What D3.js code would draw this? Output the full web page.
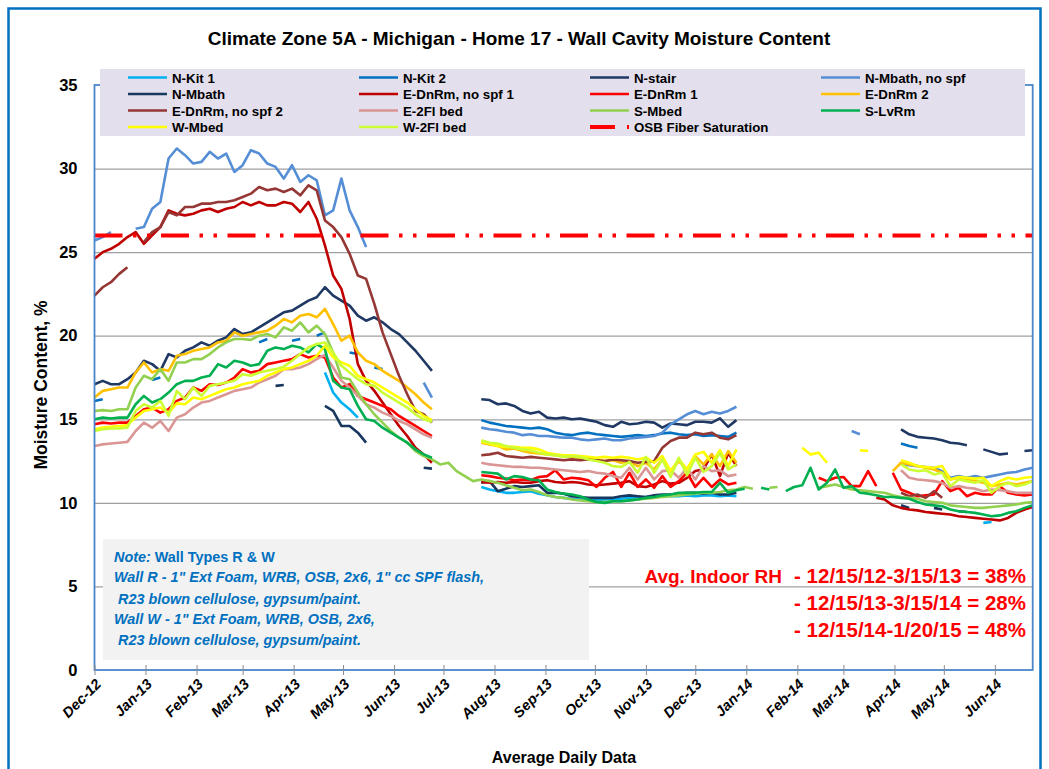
<!DOCTYPE html>
<html>
<head>
<meta charset="utf-8">
<script src="https://cdn.jsdelivr.net/npm/d3@7"></script>
<style>
  body { margin: 0; background: #fff; }
  text { font-family: 'Liberation Sans', Arial, sans-serif; }
</style>
</head>
<body>
<svg id="chart" width="1049" height="769"></svg>
<script>
const _ = null;

// daily data, read every 5th day from Dec 1 2012
const startDate = new Date(2012, 11, 1);
const endDate = new Date(2014, 5, 24);
const dates = d3.timeDay.range(startDate, d3.timeDay.offset(endDate, 1), 5);
const monthTicks = d3.timeMonth.range(startDate, endDate);
const yTicks = [0, 5, 10, 15, 20, 25, 30, 35];

const nKit1 = [
  _, _, _, _, _, _, _, _, _, _,
  _, _, _, _, _, _, _, _, _, _,
  _, _, _, _, _, _, _, _, 17.8, 16.6,
  16.0, 15.6, 15.1, _, _, _, _, _, _, _,
  _, _, _, _, _, _, _, 10.95, 10.8, 10.7,
  10.6, 10.6, 10.65, 10.7, 10.55, 10.45, 10.35, 10.3, 10.25, 10.2,
  10.2, 10.15, 10.2, 10.2, 10.25, 10.3, 10.3, 10.35, 10.4, 10.4,
  10.4, 10.4, 10.45, 10.4, 10.45, 10.45, 10.4, 10.45, 10.4, _,
  _, _, _, _, _, _, _, _, _, _,
  _, _, _, _, _, _, _, _, _, _,
  _, _, _, _, _, _, _, _, 8.8, 8.85,
  _, _, _, _, _
];
const nKit2 = [
  16.1, 16.2, _, _, _, _, _, 17.35, 17.5, _,
  _, _, _, _, _, _, _, _, _, _,
  19.6, 19.8, _, _, 19.7, 19.8, _, 20.0, 20.2, _,
  _, 19.0, 18.9, _, 18.1, 18.0, _, _, _, _,
  _, _, _, _, _, _, _, 14.95, 14.8, 14.7,
  14.6, 14.55, 14.5, 14.45, 14.5, 14.4, 14.2, 14.1, 14.05, 14.15,
  14.2, 14.1, 14.05, 14.0, 13.95, 14.0, 14.05, 14.0, 14.05, 14.15,
  14.2, 14.1, 14.05, 14.1, 14.0, 14.05, 14.0, 13.95, 14.2, _,
  _, _, _, _, _, _, _, _, _, _,
  _, _, _, _, _, _, _, _, 13.55, 13.4,
  13.3, _, _, _, _, _, _, _, _, _,
  _, _, _, _, _
];
const nStair = [
  17.1, 17.3, 17.1, 17.1, 17.4, 17.8, 18.5, 18.3, 17.9, 18.9,
  18.7, 19.1, 19.3, 19.6, 19.4, 19.7, 19.9, 20.4, 20.1, 20.2,
  20.5, 20.8, 21.1, 21.4, 21.5, 21.8, 22.1, 22.3, 22.9, 22.4,
  22.1, 21.8, 21.2, 20.9, 21.1, 20.8, 20.4, 20.1, 19.6, 19.1,
  18.5, 17.9, _, _, _, _, _, 16.2, 16.15, 15.9,
  15.95, 15.8, 15.5, 15.35, 15.45, 15.1, 15.05, 15.1, 15.0, 15.05,
  14.95, 14.85, 14.65, 14.55, 14.85, 14.7, 14.75, 14.85, 14.8, 14.5,
  14.75, 14.7, 14.65, 14.85, 14.85, 14.8, 15.05, 14.55, 14.95, _,
  _, _, _, _, _, _, _, _, _, _,
  _, _, _, _, _, _, _, _, 14.4, 14.1,
  13.95, 13.9, 13.85, 13.75, 13.6, 13.55, 13.45, _, 13.2, 13.05,
  12.9, 12.95, _, 13.1, 13.15
];
const nMbathNoSpf = [
  25.7, 25.9, 26.2, _, _, 26.4, 26.5, 27.6, 28.0, 30.6,
  31.2, 30.8, 30.3, 30.4, 31.0, 30.6, 30.9, 29.8, 30.2, 31.1,
  30.9, 30.3, 30.1, 29.4, 30.2, 29.2, 29.6, 29.3, 27.2, 27.5,
  29.4, 27.5, 26.5, 25.3, _, _, _, _, _, _,
  17.2, 16.3, _, _, _, _, _, 14.5, 14.4, 14.35,
  14.25, 14.2, 14.05, 14.1, 14.0, 14.0, 13.95, 13.9, 13.9, 13.8,
  13.75, 13.8, 13.85, 13.75, 13.75, 13.85, 13.9, 13.95, 14.0, 14.2,
  14.7, 15.0, 15.3, 15.5, 15.3, 15.45, 15.35, 15.5, 15.75, _,
  _, _, _, _, _, _, _, _, _, _,
  _, _, 14.3, 14.1, _, _, _, _, 12.3, 12.25,
  12.2, 12.15, 12.1, 11.9, 11.5, 11.6, 11.5, 11.6, 11.5, 11.6,
  11.7, 11.8, 11.85, 12.0, 12.1
];
const nMbath = [
  _, _, _, _, _, _, _, _, _, _,
  _, _, _, _, _, _, _, _, _, _,
  _, _, 17.0, 17.05, _, _, _, _, 15.8, 15.5,
  14.6, 14.6, 14.2, 13.6, _, _, _, _, _, _,
  12.1, 12.05, _, _, _, _, _, 11.2, 11.3, 10.7,
  10.85, 11.0, 10.95, 11.0, 11.05, 10.6, 10.6, 10.55, 10.4, 10.35,
  10.3, 10.3, 10.3, 10.3, 10.4, 10.45, 10.4, 10.35, 10.45, 10.5,
  10.5, 10.55, 10.6, 10.6, 10.55, 10.6, 10.5, 10.5, 10.6, _,
  _, _, _, _, _, _, _, _, _, _,
  _, _, _, _, _, _, _, _, 9.85, 9.7,
  _, _, 9.7, 9.6, _, 9.5, 9.45, _, _, _,
  _, _, _, _, _
];
const eDnRmNoSpf1 = [
  24.6, 25.0, 25.2, 25.5, 25.9, 26.2, 25.5, 26.0, 26.5, 27.5,
  27.3, 27.2, 27.3, 27.5, 27.6, 27.4, 27.6, 27.7, 28.0, 27.8,
  28.0, 27.8, 27.8, 28.0, 27.9, 27.4, 28.0, 27.0, 25.4, 23.6,
  22.8, 21.0, 18.3, 17.3, 16.7, 16.0, 15.3, 14.6, 14.0, 13.3,
  12.9, 12.4, _, _, _, _, _, 11.25, 11.2, 11.25,
  11.2, 11.25, 11.2, 11.2, 11.3, 11.35, 11.25, 11.2, 11.25, 11.2,
  11.1, 11.05, 11.1, 11.15, 11.2, 11.3, 11.0, 10.95, 11.1, 11.3,
  11.15, 11.2, 11.5, 11.9, 12.0, 12.9, 11.6, 13.0, 12.2, _,
  _, _, _, _, _, _, _, _, _, _,
  _, _, _, _, _, 10.3, 10.2, 9.85, 9.7, 9.6,
  9.55, 9.45, 9.4, 9.35, 9.3, 9.2, 9.15, 9.1, 9.05, 9.0,
  8.95, 9.1, 9.4, 9.6, 9.75
];
const eDnRm1 = [
  14.7, 14.8, 14.75, 14.8, 14.8, 15.2, 15.6, 15.7, 15.4, 15.6,
  16.1, 16.3, 16.9, 16.7, 17.1, 17.05, 17.2, 17.5, 18.0, 17.8,
  17.9, 18.3, 18.4, 18.5, 18.6, 18.9, 18.7, 18.8, 18.7, 17.5,
  16.9, 17.1, 16.4, 16.2, 16.0, 15.8, 15.6, 15.2, 14.9, 14.6,
  14.3, 14.0, _, _, _, _, _, 11.65, 11.6, 11.5,
  11.45, 11.35, 11.4, 11.35, 11.55, 11.6, 11.95, 11.4, 11.5, 11.45,
  11.35, 10.95, 11.5, 11.85, 10.95, 11.8, 10.95, 11.4, 10.9, 11.6,
  10.95, 11.3, 11.8, 10.95, 11.5, 10.95, 11.4, 11.1, 11.2, _,
  _, _, _, _, _, _, _, _, 11.5, 11.3,
  11.5, 11.55, 11.0, 11.0, 11.9, 11.0, _, 11.8, 10.8, 10.6,
  10.4, 10.45, 10.5, 11.3, 10.7, 10.9, 10.4, 10.6, 10.5, 10.5,
  11.0, 10.6, 10.5, 10.45, 10.5
];
const eDnRm2 = [
  16.3, 16.7, 16.8, 16.9, 16.9, 17.8, 18.4, 17.8, 18.0, 17.9,
  18.8, 18.9, 19.1, 19.2, 19.3, 19.6, 19.7, 20.2, 20.0, 20.1,
  20.2, 20.3, 20.6, 21.0, 20.8, 21.2, 21.3, 21.1, 21.6, 20.7,
  19.7, 20.0, 19.0, 18.5, 18.3, 17.9, 17.6, 17.3, 16.9, 16.5,
  16.0, 15.6, _, _, _, _, _, 13.6, 13.5, 13.4,
  13.2, 13.25, 13.1, 13.0, 12.95, 12.9, 12.85, 12.8, 12.75, 12.7,
  12.7, 12.6, 12.5, 12.55, 12.4, 12.5, 12.2, 12.4, 12.0, 12.6,
  11.9, 12.5, 12.0, 12.8, 12.3, 12.9, 12.2, 13.1, 12.4, _,
  _, _, _, _, _, _, _, _, _, _,
  _, _, _, _, _, _, _, 11.9, 12.4, 12.3,
  12.2, 12.1, 12.0, 11.8, 11.4, 11.5, 11.4, 11.3, 11.2, 11.0,
  11.1, 11.2, 11.1, 11.2, 11.3
];
const eDnRmNoSpf2 = [
  22.4, 22.9, 23.2, 23.7, 24.1, _, 25.6, 26.2, 26.5, 27.4,
  27.2, 27.7, 27.7, 27.9, 27.9, 28.0, 28.0, 28.1, 28.3, 28.5,
  28.9, 28.7, 28.8, 28.6, 28.8, 28.4, 29.0, 28.7, 26.9, 26.5,
  25.9, 24.9, 23.6, 23.4, 21.9, 20.2, 18.9, 17.6, 16.5, 15.5,
  15.3, 14.8, _, _, _, _, _, 12.85, 12.9, 13.0,
  12.8, 12.75, 12.7, 12.75, 12.7, 12.65, 12.6, 12.55, 12.6, 12.55,
  12.6, 12.55, 12.5, 12.6, 12.55, 12.5, 12.4, 12.45, 12.5, 13.3,
  13.7, 13.9, 13.9, 14.2, 14.1, 14.2, 13.9, 13.8, 14.05, _,
  _, _, _, _, _, _, _, _, _, _,
  _, _, _, _, _, _, _, _, 10.6, 10.4,
  10.5, 10.3, 10.7, 10.3, _, _, _, _, _, _,
  _, _, _, _, _
];
const e2FlBed = [
  13.4, 13.5, 13.55, 13.6, 13.65, 14.3, 14.8, 14.5, 14.9, 14.3,
  15.1, 15.3, 15.7, 16.0, 16.1, 16.3, 16.5, 16.7, 16.8, 16.9,
  17.2, 17.4, 17.6, 18.0, 18.0, 18.1, 18.3, 18.6, 18.85, 18.1,
  17.3, 16.9, 16.4, 15.9, 15.7, 15.4, 15.2, 14.9, 14.7, 14.4,
  14.1, 13.9, _, _, _, _, _, 12.4, 12.3, 12.25,
  12.2, 12.15, 12.15, 12.1, 12.1, 12.05, 12.0, 11.95, 11.9, 11.85,
  11.9, 11.8, 11.75, 11.6, 11.5, 12.1, 11.4, 12.1, 11.4, 11.9,
  11.95, 11.5, 12.1, 11.4, 12.2, 11.9, 11.95, 11.6, 11.7, _,
  _, _, _, _, _, _, _, _, _, _,
  _, _, _, _, _, _, _, _, 11.95, 11.5,
  11.4, 11.35, 11.3, 11.2, 10.9, 11.0, 10.9, 10.85, 10.7, 10.8,
  10.75, 10.7, 10.6, 10.6, 10.6
];
const sMbed = [
  15.5, 15.55, 15.5, 15.6, 15.6, 16.9, 17.6, 17.4, 18.0, 17.3,
  18.4, 18.4, 18.6, 18.6, 18.9, 19.3, 19.6, 19.8, 19.8, 19.75,
  20.0, 20.1, 19.9, 20.5, 20.3, 20.8, 20.2, 20.6, 20.1, 19.0,
  17.5, 17.4, 16.6, 15.9, 15.3, 14.8, 14.3, 13.9, 13.6, 13.1,
  12.8, 12.6, 12.3, 12.4, 11.9, 11.6, 11.3, 11.4, 11.3, 11.2,
  11.05, 10.9, 10.75, 10.8, 10.65, 10.45, 10.35, 10.3, 10.2, 10.15,
  10.1, 10.05, 10.05, 10.1, 10.1, 10.15, 10.2, 10.25, 10.3, 10.35,
  10.4, 10.45, 10.5, 10.55, 10.6, 10.6, 10.65, 10.75, 10.8, 10.95,
  10.85, _, 10.9, 10.95, _, _, _, _, 10.9, 11.0,
  11.1, 10.95, 10.8, 10.75, 10.7, 10.65, 10.6, 10.45, 10.35, 10.3,
  10.25, 10.1, 10.05, 10.0, 9.85, 9.8, 9.75, 9.7, 9.7, 9.75,
  9.8, 9.85, 9.9, 10.0, 10.05
];
const sLvRm = [
  15.0, 15.1, 15.05, 15.1, 15.1, 15.9, 16.4, 16.0, 16.2, 16.6,
  17.1, 17.3, 17.3, 17.5, 17.6, 18.3, 18.1, 18.5, 18.4, 18.2,
  18.3, 19.1, 19.3, 19.2, 19.4, 19.3, 19.0, 19.5, 19.2, 17.3,
  16.9, 16.8, 15.8, 15.0, 14.9, 14.5, 14.2, 13.9, 13.6, 13.2,
  12.9, 12.7, _, _, _, _, _, 11.85, 11.8, 11.75,
  11.4, 11.6, 11.55, 11.4, 11.35, 10.8, 10.65, 10.55, 10.5, 10.4,
  10.2, 10.05, 10.0, 10.1, 10.1, 10.15, 10.2, 10.3, 10.35, 10.45,
  10.5, 10.6, 10.6, 10.6, 10.65, 10.65, 11.2, 10.6, 10.75, 10.85,
  _, 10.9, 10.8, _, 10.7, 10.95, 11.05, 12.1, 10.8, 11.2,
  12.0, 10.9, 11.0, 10.6, 10.55, 10.45, 10.35, 10.35, 10.3, 10.25,
  10.05, 9.9, 9.85, 9.8, 9.6, 9.5, 9.45, 9.4, 9.3, 9.2,
  9.25, 9.4, 9.5, 9.7, 9.85
];
const wMbed = [
  14.4, 14.5, 14.55, 14.6, 14.65, 15.1, 15.5, 15.6, 15.7, 15.4,
  15.95, 15.9, 16.3, 16.2, 16.4, 16.6, 16.8, 16.9, 17.1, 17.2,
  17.3, 17.6, 17.8, 18.0, 18.1, 18.3, 18.5, 18.8, 19.4, 18.7,
  18.4, 18.2, 17.6, 17.4, 17.2, 16.9, 16.6, 16.3, 16.0, 15.6,
  15.2, 14.95, _, _, _, _, _, 13.65, 13.55, 13.4,
  13.35, 13.35, 13.3, 13.3, 13.2, 13.0, 12.9, 12.85, 12.85, 12.8,
  12.75, 12.7, 12.75, 12.7, 12.75, 12.7, 12.6, 12.7, 12.4, 12.8,
  11.9, 12.6, 12.0, 12.9, 13.05, 12.4, 13.15, 12.2, 13.2, _,
  _, _, _, _, _, _, 13.3, 12.9, 13.0, 12.4,
  _, _, _, 13.15, 13.1, _, _, _, 12.55, 12.4,
  12.2, 12.15, 12.1, 12.2, 11.4, 11.55, 11.5, 11.45, 11.5, 11.0,
  11.3, 11.5, 11.4, 11.5, 11.55
];
const w2FlBed = [
  14.3, 14.4, 14.45, 14.45, 14.5, 15.5, 15.9, 15.7, 16.1, 15.2,
  16.7, 16.2, 16.9, 16.4, 17.0, 17.1, 17.2, 17.3, 17.7, 17.6,
  17.8, 17.9, 18.0, 18.15, 18.5, 18.9, 19.3, 19.5, 19.6, 19.0,
  18.2, 17.8, 17.4, 17.1, 17.0, 16.6, 16.3, 16.0, 15.7, 15.3,
  15.0, 14.85, _, _, _, _, _, 13.75, 13.6, 13.55,
  13.4, 13.3, 13.2, 13.15, 13.0, 12.9, 12.85, 12.75, 12.8, 12.75,
  12.6, 12.5, 12.4, 12.2, 12.15, 12.45, 11.8, 12.75, 11.8, 12.6,
  11.55, 12.7, 11.65, 12.7, 11.85, 12.2, 13.0, 12.0, 12.3, _,
  _, _, _, _, _, _, _, _, _, _,
  _, _, _, _, _, _, _, _, 12.3, 12.0,
  11.9, 11.95, 11.7, 11.8, 11.0, 11.4, 11.3, 11.2, 11.35, 10.6,
  11.0, 11.2, 11.0, 11.1, 11.3
];
const osbFiberSat = [26, 26];

const seriesNames = ['N-Kit 1', 'N-Kit 2', 'N-stair', 'N-Mbath, no spf',
  'N-Mbath', 'E-DnRm, no spf 1', 'E-DnRm 1', 'E-DnRm 2',
  'E-DnRm, no spf 2', 'E-2Fl bed', 'S-Mbed', 'S-LvRm',
  'W-Mbed', 'W-2Fl bed'];
const seriesColors = ['#00b0f0', '#0070c0', '#1f3864', '#558ed5',
  '#17375e', '#c00000', '#ff0000', '#ffc000',
  '#953735', '#d99694', '#92d050', '#00b050',
  '#ffff00', '#ccff33'];
const seriesValues = [nKit1, nKit2, nStair, nMbathNoSpf, nMbath, eDnRmNoSpf1, eDnRm1,
  eDnRm2, eDnRmNoSpf2, e2FlBed, sMbed, sLvRm, wMbed, w2FlBed];

const svg = d3.select('#chart');
const plot = { left: 94.5, right: 1032.7, top: 85, bottom: 670 };

const x = d3.scaleTime()
  .domain([startDate, endDate])
  .range([plot.left, plot.right]);
const y = d3.scaleLinear()
  .domain([0, 35])
  .range([plot.bottom, plot.top]);

// outer chart border
svg.append('rect')
  .attr('x', 8.5).attr('y', 8.5)
  .attr('width', 1032).attr('height', 800)
  .attr('fill', '#fff')
  .attr('stroke', '#0070c0')
  .attr('stroke-width', 2.5);

svg.append('text')
  .attr('x', 519).attr('y', 45)
  .attr('text-anchor', 'middle')
  .attr('font-size', 19)
  .attr('font-weight', 'bold')
  .text('Climate Zone 5A - Michigan - Home 17 - Wall Cavity Moisture Content');

// gridlines
const grid = svg.append('g')
  .attr('class', 'grid')
  .attr('transform', `translate(${plot.left},0)`)
  .call(d3.axisLeft(y).tickValues(yTicks.slice(1, -1)).tickSize(-(plot.right - plot.left)).tickFormat(''));
grid.select('.domain').remove();
grid.selectAll('.tick line').attr('stroke', '#a0a0a0').attr('stroke-width', 1.3);

// y labels
const yAxis = svg.append('g')
  .attr('transform', `translate(${plot.left},0)`)
  .call(d3.axisLeft(y).tickValues(yTicks).tickSize(0).tickPadding(17));
yAxis.select('.domain').remove();
yAxis.selectAll('.tick text')
  .attr('font-size', 16.5)
  .attr('font-weight', 'bold')
  .attr('fill', '#000')
  .style('font-family', "'Liberation Sans', Arial, sans-serif");

// note box (sits over the gridlines)
const note = svg.append('g').attr('class', 'note');
note.append('rect')
  .attr('x', 103).attr('y', 539)
  .attr('width', 486).attr('height', 121)
  .attr('fill', '#f2f2f2');
const noteLines = [
  { x: 114, y: 562, parts: [['Note:', 'italic'], [' Wall Types R & W', 'normal']] },
  { x: 114, y: 582, parts: [['Wall R - 1" Ext Foam, WRB, OSB, 2x6, 1" cc SPF flash,', 'italic']] },
  { x: 118, y: 604, parts: [['R23 blown cellulose, gypsum/paint.', 'italic']] },
  { x: 114, y: 624, parts: [['Wall W - 1" Ext Foam, WRB, OSB, 2x6,', 'italic']] },
  { x: 118, y: 645, parts: [['R23 blown cellulose, gypsum/paint.', 'italic']] }
];
noteLines.forEach((ln) => {
  const t = note.append('text')
    .attr('x', ln.x).attr('y', ln.y)
    .attr('font-size', 14.4)
    .attr('font-weight', 'bold')
    .attr('fill', '#0070c0');
  ln.parts.forEach((p) => {
    t.append('tspan').attr('font-style', p[1]).text(p[0]);
  });
});

// indoor RH text
const rhLabel = 'Avg. Indoor RH';
const rhLines = [
  ['- 12/15/12-3/15/13 = 38%', 583],
  ['- 12/15/13-3/15/14 = 28%', 610],
  ['- 12/15/14-1/20/15 = 48%', 637]
];
const rh = svg.append('g').attr('class', 'rh')
  .attr('font-weight', 'bold')
  .attr('fill', '#ff0000');
rh.append('text')
  .attr('x', 782).attr('y', rhLines[0][1])
  .attr('text-anchor', 'end')
  .attr('font-size', 19)
  .text(rhLabel);
rh.selectAll('text.period')
  .data(rhLines)
  .enter()
  .append('text')
  .attr('class', 'period')
  .attr('x', 1026)
  .attr('y', d => d[1])
  .attr('text-anchor', 'end')
  .attr('font-size', 20.5)
  .text(d => d[0]);

// series lines
const line = d3.line()
  .defined(d => d.v !== null)
  .x(d => x(d.date))
  .y(d => y(d.v));
const lines = svg.append('g').attr('class', 'series');
seriesValues.forEach((vals, k) => {
  lines.append('path')
    .datum(vals.map((v, i) => ({ date: dates[i], v })))
    .attr('fill', 'none')
    .attr('stroke', seriesColors[k])
    .attr('stroke-width', 2.6)
    .attr('stroke-linejoin', 'round')
    .attr('d', line);
});

// OSB fiber saturation
const osbDash = '28,10.5,3.5,10.5,3.5,10.5';
lines.append('path')
  .datum(osbFiberSat.map((v, i) => ({ date: [startDate, endDate][i], v })))
  .attr('fill', 'none')
  .attr('stroke', '#ff0000')
  .attr('stroke-width', 4)
  .attr('stroke-dasharray', osbDash)
  .attr('d', line);

// plot frame
svg.append('rect')
  .attr('x', plot.left).attr('y', plot.top)
  .attr('width', plot.right - plot.left)
  .attr('height', plot.bottom - plot.top)
  .attr('fill', 'none')
  .attr('stroke', '#4a86c8')
  .attr('stroke-width', 1.8);

// x axis
const xAxis = svg.append('g')
  .attr('transform', `translate(0,${plot.bottom})`)
  .call(d3.axisBottom(x).tickValues(monthTicks).tickFormat(d3.timeFormat('%b-%y')).tickSize(5));
xAxis.select('.domain').remove();
xAxis.selectAll('.tick line')
  .attr('y1', -5)
  .attr('stroke', '#8c8c8c');
xAxis.selectAll('.tick text')
  .attr('font-size', 14.5)
  .attr('font-weight', 'bold')
  .attr('font-style', 'italic')
  .attr('fill', '#000')
  .attr('text-anchor', 'end')
  .attr('dy', 0)
  .attr('y', 0)
  .attr('transform', 'translate(7,15) rotate(-45)')
  .style('font-family', "'Liberation Sans', Arial, sans-serif");

svg.append('text')
  .attr('x', 564).attr('y', 763)
  .attr('text-anchor', 'middle')
  .attr('font-size', 16)
  .attr('font-weight', 'bold')
  .text('Average Daily Data');

svg.append('text')
  .attr('transform', 'translate(47,385) rotate(-90)')
  .attr('text-anchor', 'middle')
  .attr('font-size', 17.5)
  .attr('font-weight', 'bold')
  .text('Moisture Content, %');

// legend
const legend = svg.append('g').attr('class', 'legend');
legend.append('rect')
  .attr('x', 100).attr('y', 69)
  .attr('width', 925).attr('height', 67)
  .attr('fill', '#e4dfec');
const legendCols = [128, 359, 590, 821];
const legendRows = [77.5, 94, 110.5, 127];
const legendItems = seriesNames.map((n, k) => ({ name: n, color: seriesColors[k], dash: null, w: 2.6 }));
legendItems.push({ name: 'OSB Fiber Saturation', color: '#ff0000', dash: '25,12,3,100', w: 4 });
const li = legend.selectAll('g.item')
  .data(legendItems)
  .enter()
  .append('g')
  .attr('class', 'item')
  .attr('transform', (d, i) => `translate(${legendCols[i % 4]},${legendRows[Math.floor(i / 4)]})`);
li.append('line')
  .attr('x1', 0).attr('x2', 39)
  .attr('y1', 0).attr('y2', 0)
  .attr('stroke', d => d.color)
  .attr('stroke-width', d => d.w)
  .attr('stroke-dasharray', d => d.dash);
li.append('text')
  .attr('x', 44).attr('y', 5)
  .attr('font-size', 13.3)
  .attr('font-weight', 'bold')
  .text(d => d.name);
</script>
</body>
</html>
